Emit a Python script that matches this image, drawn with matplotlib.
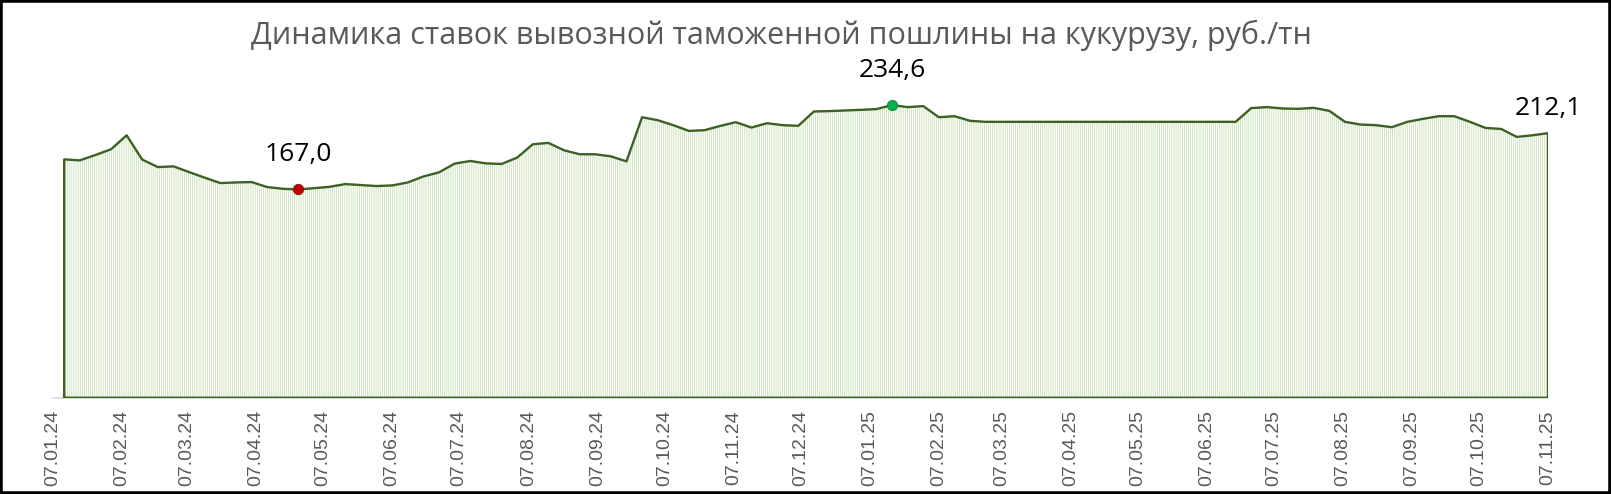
import pandas as pd
import matplotlib.pyplot as plt
import matplotlib.dates as mdates
from matplotlib.patches import Rectangle

# Weekly duty rates, rub/t, Fridays from 12.01.24 to 07.11.25
first_date = '2024-01-12'
values = [
    191.1, 190.3, 194.6, 199.2, 210.4, 190.9, 184.9, 185.5, 180.9, 176.4,
    172.1, 172.6, 172.9, 168.9, 167.5, 167.0, 168.0, 169.1, 171.3, 170.5,
    169.7, 170.2, 172.6, 177.4, 180.7, 187.7, 189.8, 187.9, 187.4, 192.5,
    203.2, 204.3, 198.4, 195.2, 195.2, 193.5, 189.5, 224.9, 222.5, 218.5,
    213.9, 214.5, 217.9, 220.9, 216.6, 220.1, 218.5, 218.0, 229.5, 229.8,
    230.3, 230.8, 231.4, 234.6, 233.0, 233.8, 224.9, 225.7, 222.0, 221.2,
    221.2, 221.2, 221.2, 221.2, 221.2, 221.2, 221.2, 221.2, 221.2, 221.2,
    221.2, 221.2, 221.2, 221.2, 221.2, 221.2, 232.2, 233.0, 231.9, 231.6,
    232.4, 230.0, 221.2, 219.0, 218.5, 216.9, 221.2, 223.6, 225.7, 225.7,
    221.2, 216.3, 215.5, 209.1, 210.4, 212.1,
]
dates = list(pd.date_range(first_date, periods=len(values), freq='7D'))

axis_start = pd.Timestamp('2024-01-07')
axis_end = pd.Timestamp('2025-11-07')
tick_dates = [axis_start + pd.DateOffset(months=k) for k in range(23)]

title = 'Динамика ставок вывозной таможенной пошлины на кукурузу, руб./тн'

line_color = '#3D6125'
hatch_color = '#BCDAA6'

plt.rcParams['hatch.linewidth'] = 0.5

fig = plt.figure(figsize=(16.11, 4.94), dpi=100)
ax = fig.add_axes([0.0329, 0.1949, 0.9280, 0.6312])

# hatched area
ax.fill_between(dates, values, 0, facecolor='white', edgecolor=hatch_color,
                hatch='|' * 8, linewidth=0)

# outline of the area
xs = [dates[0]] + dates + [dates[-1], dates[0]]
ys = [0] + values + [0, 0]
ax.plot(xs, ys, color=line_color, lw=1.7, solid_joinstyle='round', zorder=3)

# min / max markers and labels
i_min = values.index(min(values))
i_max = values.index(max(values))
ax.plot(dates[i_min], values[i_min], 'o', ms=7.5, color='#C00000',
        mec='#8B1A1A', mew=0.6, zorder=4)
ax.plot(dates[i_max], values[i_max], 'o', ms=7.5, color='#00B050',
        mec='#2E7D32', mew=0.6, zorder=4)

def label(i, dy):
    ax.annotate(f'{values[i]:.1f}'.replace('.', ','), (dates[i], values[i]),
                xytext=(0, dy), textcoords='offset points', ha='center',
                va='center', fontsize=19, family='Open Sans', color='black',
                annotation_clip=False)

label(i_min, 25)
label(i_max, 25)
label(len(values) - 1, 18)

ax.set_xlim(axis_start, axis_end)
ax.set_ylim(0, 250)
ax.set_xticks(tick_dates)
ax.xaxis.set_major_formatter(mdates.DateFormatter('%d.%m.%y'))
ax.tick_params(axis='x', length=0, pad=9, labelsize=14, labelcolor='#595959',
               labelrotation=90)
for t in ax.get_xticklabels():
    t.set_family('Liberation Sans')
ax.set_yticks([])
for s in ['left', 'right', 'top']:
    ax.spines[s].set_visible(False)
ax.spines['bottom'].set_color('#D9D9D9')
ax.spines['bottom'].set_linewidth(1.2)

fig.text(0.485, 0.911, title, ha='center', va='baseline', fontsize=22,
         family='Open Sans', color='#595959')

# black frame around the picture
fig.patches.append(Rectangle((0, 0), 1, 1, transform=fig.transFigure,
                             fill=False, edgecolor='black', linewidth=4))

fig.savefig('out.png', dpi=100)
